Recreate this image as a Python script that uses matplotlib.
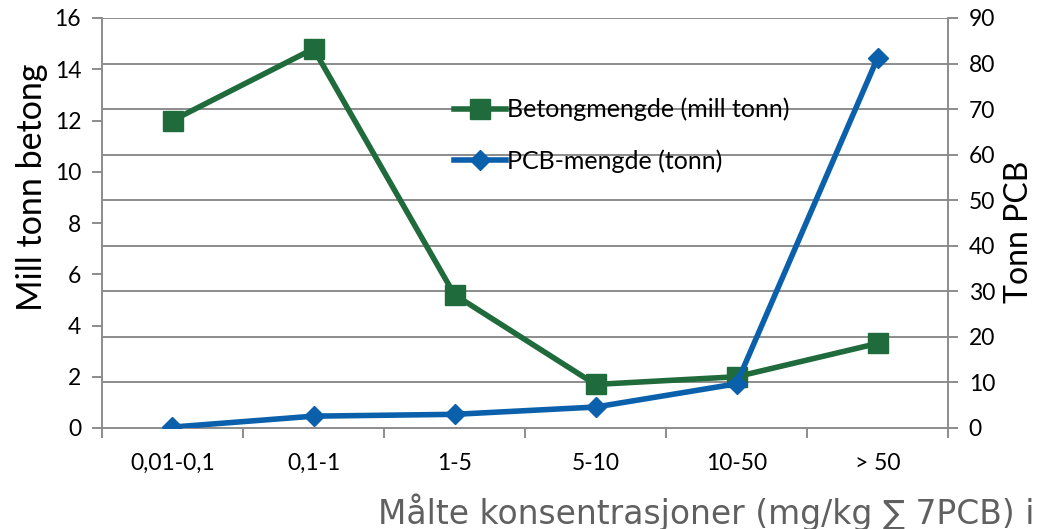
import matplotlib.pyplot as plt
import numpy as np

categories = ["0,01-0,1", "0,1-1", "1-5", "5-10", "10-50", "> 50"]
betong = [12.0, 14.8, 5.2, 1.7, 2.0, 3.3]   # mill tonn
pcb = [0.2, 2.6, 3.0, 4.6, 9.7, 81.2]       # tonn

left_ticks = np.arange(0, 17, 2)
right_ticks = np.arange(0, 91, 10)

green = "#1f6b3b"
blue = "#0a60aa"
axis_gray = "#8c8c8c"

plt.rcParams['font.family'] = ['Lato', 'DejaVu Sans']

fig = plt.figure(figsize=(10.38, 5.29), dpi=100)
ax = fig.add_axes([102 / 1038, 1 - 428 / 529, 846 / 1038, 410 / 529])
ax2 = ax.twinx()

x = np.arange(len(categories))

# gridlines follow the right axis
for v in right_ticks[1:]:
    ax.axhline(v * 16 / 90, color=axis_gray, lw=1.4, zorder=0)

ax.plot(x, betong, color=green, lw=4, marker='s', markersize=14,
        label='Betongmengde (mill tonn)', zorder=3)
ax2.plot(x, pcb, color=blue, lw=4, marker='D', markersize=10,
         label='PCB-mengde (tonn)', zorder=3)

ax.set_xlim(-0.5, len(categories) - 0.5)
ax.set_ylim(0, 16)
ax2.set_ylim(0, 90)
ax.set_yticks(left_ticks)
ax2.set_yticks(right_ticks)

ax.set_xticks(x)
ax.set_xticklabels(categories)
ax.set_xticks(np.arange(-0.5, len(categories), 1), minor=True)
ax.tick_params(axis='x', which='major', length=0, pad=18, labelsize=16.5)
ax.tick_params(axis='x', which='minor', length=7, width=1.4, color=axis_gray)
ax.tick_params(axis='y', length=7, width=1.4, color=axis_gray, labelsize=16.5, pad=8)
ax2.tick_params(axis='y', length=7, width=1.4, color=axis_gray, labelsize=16.5, pad=8)

for a in (ax, ax2):
    for s in a.spines.values():
        s.set_visible(False)
ax.spines['left'].set_visible(True)
ax.spines['bottom'].set_visible(True)
ax2.spines['right'].set_visible(True)
for s in (ax.spines['left'], ax.spines['bottom'], ax2.spines['right']):
    s.set_color(axis_gray)
    s.set_linewidth(1.4)

ax.set_ylabel('Mill tonn betong', fontsize=24.5)
ax.yaxis.set_label_coords(-0.064, 0.588)
ax2.set_ylabel('Tonn PCB', fontsize=23)
ax2.yaxis.set_label_coords(1.066, 0.478)

h1, l1 = ax.get_legend_handles_labels()
h2, l2 = ax2.get_legend_handles_labels()
ax2.legend(h1 + h2, l1 + l2, loc='upper left', bbox_to_anchor=(0.389, 0.86),
           frameon=False, fontsize=18, handlelength=2.1, handletextpad=0.05,
           labelspacing=1.1)

fig.text(378 / 1038, 1 - 512 / 529, 'Målte konsentrasjoner (mg/kg ∑ 7PCB) i',
         fontsize=23.7, color='#606060', family='DejaVu Sans', va='center')

fig.savefig('out.png', dpi=100)
